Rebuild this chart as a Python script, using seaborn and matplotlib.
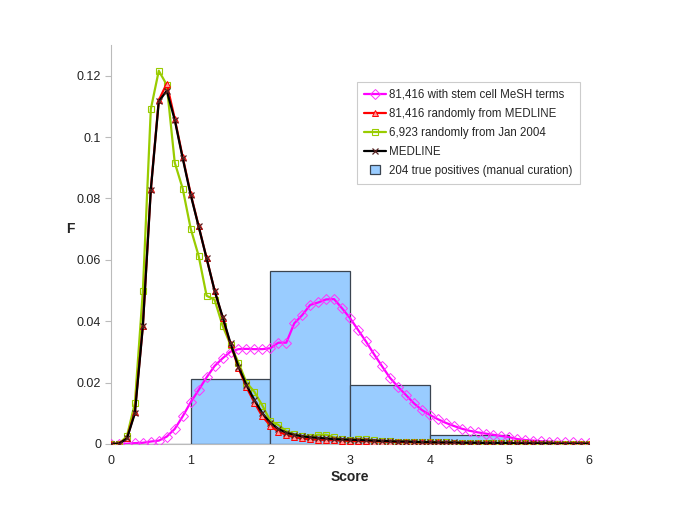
import numpy as np
import pandas as pd
import matplotlib
matplotlib.use("Agg")
import matplotlib.pyplot as plt
import seaborn as sns
from matplotlib.ticker import FuncFormatter
from matplotlib.legend_handler import HandlerPatch
from matplotlib.patches import Rectangle

# ---- data ----
score = [round(i * 0.1, 1) for i in range(61)]

stem_cell = [0, 0, 0.0001, 0.0003, 0.0004, 0.0008, 0.0011, 0.0024, 0.0049, 0.0090,
             0.0136, 0.0176, 0.0217, 0.0254, 0.0279, 0.0301, 0.0309, 0.0310, 0.0309, 0.0309,
             0.0312, 0.0330, 0.0330, 0.0393, 0.0420, 0.0453, 0.0461, 0.0471, 0.0472, 0.0442,
             0.0410, 0.0372, 0.0334, 0.0293, 0.0254, 0.0216, 0.0187, 0.0160, 0.0133, 0.0111,
             0.0095, 0.0081, 0.0069, 0.0059, 0.0050, 0.0043, 0.0038, 0.0034, 0.0030, 0.0026,
             0.0022, 0.0016, 0.0013, 0.0011, 0.0009, 0.0008, 0.0007, 0.0006, 0.0005, 0.0004,
             0.0003]

random_medline = [0, 0.0001, 0.0018, 0.0105, 0.0385, 0.0830, 0.1120, 0.1174, 0.1060, 0.0935,
                  0.0815, 0.0710, 0.0605, 0.0500, 0.0412, 0.0325, 0.0248, 0.0185, 0.0135, 0.0090,
                  0.0060, 0.0040, 0.0030, 0.0022, 0.0018, 0.0015, 0.0014, 0.0013, 0.0012, 0.0011,
                  0.0010, 0.0009, 0.0009, 0.0008, 0.0008, 0.0007, 0.0007, 0.0006, 0.0006, 0.0005,
                  0.0005, 0.0005, 0.0004, 0.0004, 0.0004, 0.0003, 0.0003, 0.0003, 0.0003, 0.0002,
                  0.0002, 0.0002, 0.0002, 0.0002, 0.0001, 0.0001, 0.0001, 0.0001, 0.0001, 0.0001,
                  0.0001]

jan2004 = [0, 0.0001, 0.0025, 0.0133, 0.0497, 0.1091, 0.1216, 0.1170, 0.0917, 0.0832,
           0.0702, 0.0613, 0.0483, 0.0470, 0.0386, 0.0323, 0.0265, 0.0200, 0.0170, 0.0125,
           0.0075, 0.0062, 0.0042, 0.0032, 0.0026, 0.0024, 0.0030, 0.0030, 0.0022, 0.0016,
           0.0014, 0.0017, 0.0016, 0.0012, 0.0010, 0.0009, 0.0008, 0.0008, 0.0007, 0.0006,
           0.0006, 0.0005, 0.0005, 0.0004, 0.0004, 0.0004, 0.0003, 0.0003, 0.0003, 0.0002,
           0.0002, 0.0002, 0.0002, 0.0001, 0.0001, 0.0001, 0.0001, 0.0001, 0.0001, 0.0001,
           0.0001]

medline = [0, 0.0001, 0.0018, 0.0100, 0.0383, 0.0828, 0.1116, 0.1151, 0.1056, 0.0931,
           0.0812, 0.0709, 0.0605, 0.0500, 0.0415, 0.0328, 0.0252, 0.0192, 0.0143, 0.0100,
           0.0069, 0.0049, 0.0037, 0.0030, 0.0025, 0.0022, 0.0020, 0.0018, 0.0016, 0.0015,
           0.0014, 0.0013, 0.0012, 0.0011, 0.0010, 0.0009, 0.0008, 0.0008, 0.0007, 0.0006,
           0.0006, 0.0005, 0.0005, 0.0005, 0.0004, 0.0004, 0.0004, 0.0003, 0.0003, 0.0003,
           0.0003, 0.0002, 0.0002, 0.0002, 0.0002, 0.0002, 0.0001, 0.0001, 0.0001, 0.0001,
           0.0001]

bin_left = [0, 1, 2, 3, 4, 5]
true_pos = [0, 0.0211, 0.0564, 0.0191, 0.0029, 0]

labels = ["81,416 with stem cell MeSH terms",
          "81,416 randomly from MEDLINE",
          "6,923 randomly from Jan 2004",
          "MEDLINE",
          "204 true positives (manual curation)"]
xticks = [0, 1, 2, 3, 4, 5, 6]
yticks = [0, 0.02, 0.04, 0.06, 0.08, 0.10, 0.12]

# ---- plot ----
sns.set_style("white")
plt.rcParams['font.family'] = ['Liberation Sans', 'DejaVu Sans']

fig = plt.figure(figsize=(6.85, 5.29), dpi=100)
ax = fig.add_axes([0.162, 0.1607, 0.698, 0.7543])

bars = ax.bar(bin_left, true_pos, width=1.0, align='edge', color='#99CCFF',
              edgecolor='#3A4450', linewidth=0.9, label=labels[4], zorder=1)

df = pd.DataFrame({"score": score, "stem": stem_cell, "rand": random_medline,
                   "jan": jan2004, "med": medline})

sns.lineplot(data=df, x="score", y="stem", ax=ax, color='#FF00FF', lw=1.6,
             marker='D', markersize=4.6, markerfacecolor='none', markeredgecolor='#FF33FF',
             markeredgewidth=0.7, label=labels[0], zorder=3)
sns.lineplot(data=df, x="score", y="jan", ax=ax, color='#99CC00', lw=1.6,
             marker='s', markersize=4.5, markerfacecolor='none', markeredgecolor='#99CC00',
             markeredgewidth=0.8, label=labels[2], zorder=4)
sns.lineplot(data=df, x="score", y="rand", ax=ax, color='#FF0000', lw=1.6,
             marker='^', markersize=5, markerfacecolor='#FF9999', markeredgecolor='#FF0000',
             markeredgewidth=0.7, label=labels[1], zorder=5)
sns.lineplot(data=df, x="score", y="med", ax=ax, color='#000000', lw=1.6,
             marker='x', markersize=5, markeredgecolor='#552222',
             markeredgewidth=0.9, label=labels[3], zorder=6)

ax.set_xlim(0, 6)
ax.set_ylim(0, 0.13)
ax.set_xticks(xticks)
ax.set_yticks(yticks)
ax.yaxis.set_major_formatter(FuncFormatter(lambda v, p: "%g" % round(v, 2)))
ax.tick_params(axis='y', which='major', length=4, width=0.8, color='#BBBBBB',
               direction='out', left=True, labelsize=9, pad=3, labelcolor='#222222')
ax.tick_params(axis='x', length=0, labelsize=9, pad=8, labelcolor='#222222')

for s in ['top', 'right']:
    ax.spines[s].set_visible(False)
ax.spines['left'].set_color('#BBBBBB')
ax.spines['left'].set_linewidth(0.8)
ax.spines['bottom'].set_color('#BBBBBB')
ax.spines['bottom'].set_linewidth(0.8)

ax.set_xlabel("Score", fontsize=10, fontweight='bold', labelpad=2)
ax.set_ylabel("F", fontsize=10, fontweight='bold', rotation=0, labelpad=18)
ax.yaxis.set_label_coords(-0.085, 0.52)


def square_patch(legend, orig_handle, xdescent, ydescent, width, height, fontsize):
    s = height * 1.15
    x0 = (width - s) / 2.0 - xdescent
    y0 = (height - s) / 2.0 - ydescent
    return Rectangle((x0, y0), s, s)


handles, lbls = ax.get_legend_handles_labels()
hmap = dict(zip(lbls, handles))
hmap[labels[4]] = bars.patches[1]
leg = ax.legend([hmap[l] for l in labels], labels, loc='upper left',
                bbox_to_anchor=(0.515, 0.907), fontsize=8.3, frameon=True,
                fancybox=False, edgecolor='#CCCCCC', framealpha=1,
                handlelength=1.9, handletextpad=0.3, labelspacing=0.6,
                borderpad=0.6, borderaxespad=0,
                handler_map={Rectangle: HandlerPatch(patch_func=square_patch)})
leg.get_frame().set_linewidth(0.8)

fig.savefig("out.png", dpi=100)
